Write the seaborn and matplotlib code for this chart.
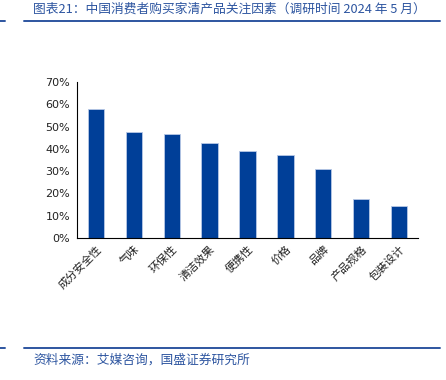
import matplotlib
matplotlib.use("Agg")
import matplotlib.pyplot as plt
import seaborn as sns
import pandas as pd
from matplotlib.ticker import PercentFormatter, FixedLocator

# Chart data
factors = ["成分安全性", "气味", "环保性", "清洁效果", "便携性", "价格", "品牌", "产品规格", "包装设计"]
shares = [57.7, 47.5, 46.6, 42.8, 38.9, 37.1, 30.8, 17.6, 14.5]

title_text = "图表21：中国消费者购买家清产品关注因素（调研时间 2024 年 5 月）"
source_text = "资料来源：艾媒咨询，国盛证券研究所"

BAR_BLUE = "#003f98"
TEXT_BLUE = "#2d55a0"

sns.set_style("white")
plt.rcParams['font.family'] = ['Noto Sans CJK SC', 'DejaVu Sans']

df = pd.DataFrame({"factor": factors, "share": shares})

fig = plt.figure(figsize=(4.46, 3.8), dpi=100)
ax = fig.add_axes([0.1726, 0.3737, 0.7646, 0.4105])

sns.barplot(data=df, x="factor", y="share", color=BAR_BLUE, width=0.43,
            saturation=1, edgecolor="#b8c8e6", linewidth=0.6, ax=ax)

ax.set_xlim(-0.5, len(factors) - 0.5)
ax.set_ylim(0, 70)
ax.set_yticks(range(0, 71, 10))
ax.yaxis.set_major_formatter(PercentFormatter(decimals=0))
ax.set_xlabel("")
ax.set_ylabel("")

# ticks between categories, labels under the bars
ax.set_xticks(range(len(factors)))
ax.set_xticklabels(factors, rotation=45, ha="right", va="top",
                   rotation_mode="anchor", fontsize=8, color="#222222")
ax.xaxis.set_minor_locator(FixedLocator([i - 0.5 for i in range(len(factors) + 1)]))
ax.tick_params(axis="x", which="major", length=0, pad=4)
ax.tick_params(axis="x", which="minor", length=3.5, width=0.8, color="black", direction="out")
ax.tick_params(axis="y", length=3, width=0.8, color="black", direction="out",
               labelsize=8, pad=2)
for lab in ax.get_yticklabels():
    lab.set_fontfamily(["DejaVu Sans"])
    lab.set_color("#222222")

sns.despine(ax=ax, top=True, right=True)
ax.spines["left"].set_color("black")
ax.spines["bottom"].set_color("black")
ax.spines["left"].set_linewidth(0.8)
ax.spines["bottom"].set_linewidth(0.8)

# header and footer rules
for y in (1 - 21 / 380, 1 - 348 / 380):
    fig.add_artist(plt.Line2D([24 / 446, 440 / 446], [y, y], color=TEXT_BLUE, linewidth=1.4))
    fig.add_artist(plt.Line2D([0, 5 / 446], [y, y], color=TEXT_BLUE, linewidth=1.4))

fig.text(33 / 446, 1 - 9 / 380, title_text, fontsize=9.2, color=TEXT_BLUE,
         ha="left", va="center")
fig.text(33 / 446, 1 - 360 / 380, source_text, fontsize=9.2, color=TEXT_BLUE,
         ha="left", va="center")

fig.savefig("out.png", dpi=100)
